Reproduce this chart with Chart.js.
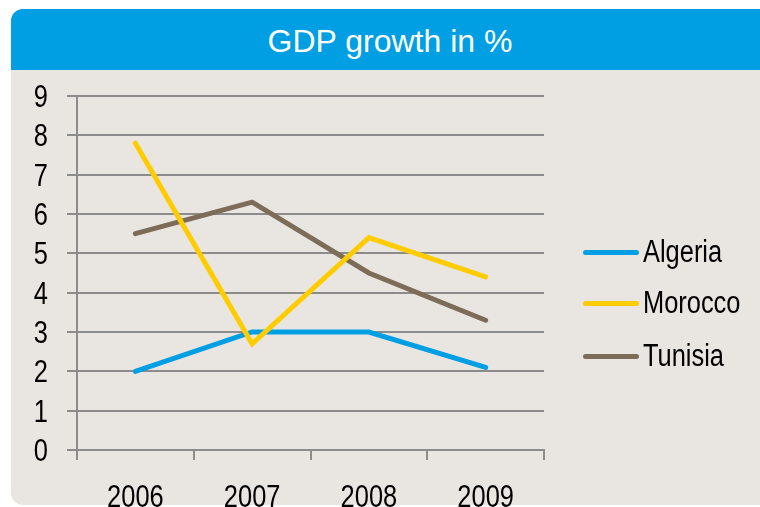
<!DOCTYPE html>
<html>
<head>
<meta charset="utf-8">
<script src="https://cdn.jsdelivr.net/npm/chart.js@4/dist/chart.umd.min.js"></script>
<style>
    body { margin: 0; background: #ffffff; width: 760px; height: 507px; overflow: hidden; position: relative; }
    .panel { position: absolute; left: 11px; top: 9px; width: 770px; height: 496px; background: #e9e6e2; border-radius: 12px 0 0 12px; overflow: hidden; }
    .panel-title { height: 61px; background: #009fe3; color: #ffffff; font: 32px "Liberation Sans", Arial, sans-serif; text-align: center; line-height: 61px; padding-right: 12px; padding-top: 2px; box-sizing: border-box; }
    #chart { position: absolute; left: 0; top: 0; }
    .legend { position: absolute; left: 583px; top: 0; font: 31px "Liberation Sans", Arial, sans-serif; color: #000; }
    .legend-item { position: absolute; left: 0; height: 40px; display: flex; align-items: center; white-space: nowrap; }
    .legend-line { width: 56px; height: 5px; border-radius: 3px; margin-right: 4px; }
    .legend-text { display: inline-block; transform: scaleX(0.82); transform-origin: left center; }
</style>
</head>
<body>
<div class="panel"><div class="panel-title">GDP growth in %</div></div>
<canvas id="chart" width="760" height="507"></canvas>
<div class="legend" id="legend"></div>
<script>
// Données de croissance du PIB (%)
const years = ['2006', '2007', '2008', '2009'];
const algeria = [2.0, 3.0, 3.0, 2.1];
const morocco = [7.8, 2.7, 5.4, 4.4];
const tunisia = [5.5, 6.3, 4.5, 3.3];
const yTicks = [0, 1, 2, 3, 4, 5, 6, 7, 8, 9];

const countries = ['Algeria', 'Morocco', 'Tunisia'];
const colors = ['#009fe3', '#ffcc00', '#7d6c58'];
const gridColor = '#8c8c8c';
const labelFont = '31px "Liberation Sans", Arial, sans-serif';
const narrow = 0.82; // police étroite simulée par compression horizontale

function makeDataset(label, values, color, order) {
    return {
        label: label,
        data: values,
        borderColor: color,
        backgroundColor: color,
        borderWidth: 5,
        borderCapStyle: 'round',
        pointRadius: 0,
        tension: 0,
        order: order
    };
}

// Étiquettes des axes dessinées en police condensée
const narrowLabels = {
    id: 'narrowLabels',
    afterDraw(chart) {
        const c = chart.ctx;
        const xs = chart.scales.x;
        const ys = chart.scales.y;
        c.save();
        c.font = labelFont;
        c.fillStyle = '#000';
        c.textBaseline = 'alphabetic';
        c.textAlign = 'center';
        xs.ticks.forEach((t, i) => {
            c.save();
            c.translate(xs.getPixelForTick(i), xs.top + 57);
            c.scale(narrow, 1);
            c.fillText(xs.getLabelForValue(t.value), 0, 0);
            c.restore();
        });
        c.textAlign = 'right';
        ys.ticks.forEach(t => {
            c.save();
            c.translate(ys.right - 29, ys.getPixelForValue(t.value) + 11);
            c.scale(narrow, 1);
            c.fillText(String(t.value), 0, 0);
            c.restore();
        });
        c.restore();
    }
};

const ctx = document.getElementById('chart').getContext('2d');
new Chart(ctx, {
    type: 'line',
    data: {
        labels: years,
        datasets: [
            makeDataset(countries[0], algeria, colors[0], 2),
            makeDataset(countries[1], morocco, colors[1], 0),
            makeDataset(countries[2], tunisia, colors[2], 1)
        ]
    },
    options: {
        responsive: false,
        animation: false,
        layout: { padding: { top: 96, right: 216, bottom: 0, left: 0 } },
        plugins: { legend: { display: false }, tooltip: { enabled: false } },
        scales: {
            x: {
                offset: true,
                grid: { offset: true, drawOnChartArea: false, color: gridColor, lineWidth: 2, tickLength: 10 },
                border: { color: gridColor, width: 2 },
                ticks: { display: false, autoSkip: false },
                afterFit: function(scale) { scale.height = 57; }
            },
            y: {
                min: yTicks[0],
                max: yTicks[yTicks.length - 1],
                afterBuildTicks: function(scale) { scale.ticks = yTicks.map(v => ({ value: v })); },
                grid: { color: gridColor, lineWidth: 2, tickLength: 10 },
                border: { color: gridColor, width: 2 },
                ticks: { display: false, autoSkip: false },
                afterFit: function(scale) { scale.width = 77; }
            }
        }
    },
    plugins: [narrowLabels]
});

// Légende personnalisée à droite du graphique
const legendTops = [232, 283, 336];
const legend = document.getElementById('legend');
countries.forEach((name, i) => {
    const item = document.createElement('div');
    item.className = 'legend-item';
    item.style.top = legendTops[i] + 'px';
    const line = document.createElement('div');
    line.className = 'legend-line';
    line.style.backgroundColor = colors[i];
    const text = document.createElement('span');
    text.className = 'legend-text';
    text.textContent = name;
    item.appendChild(line);
    item.appendChild(text);
    legend.appendChild(item);
});
</script>
</body>
</html>
